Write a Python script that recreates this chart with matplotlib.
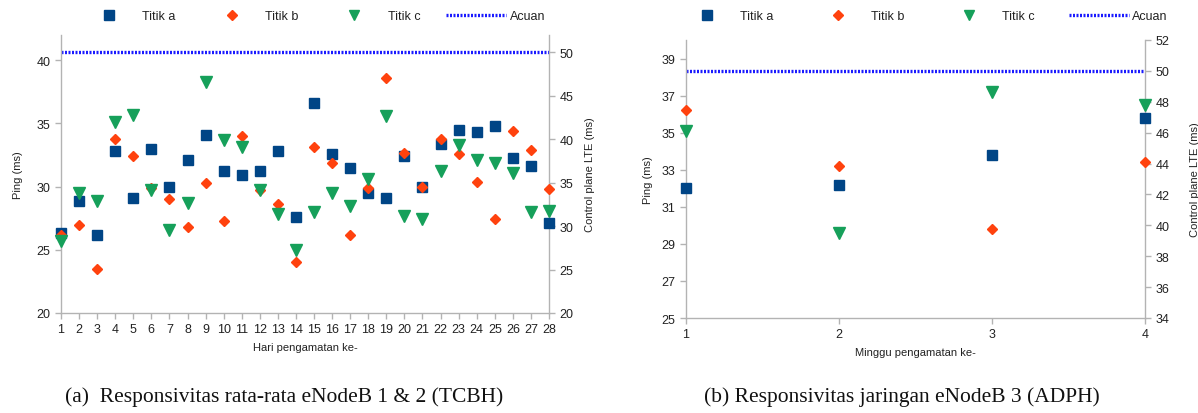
import matplotlib
matplotlib.use("Agg")
import matplotlib.pyplot as plt
from matplotlib.lines import Line2D

plt.rcParams["font.family"] = ["Liberation Sans", "DejaVu Sans"]

# ── data ─────────────────────────────────────────────────────────────────────
hari = list(range(1, 29))
hari_a = [26.3, 28.9, 26.2, 32.8, 29.1, 33.0, 30.0, 32.1, 34.1, 31.2, 30.9, 31.2, 32.8, 27.6,
          36.6, 32.6, 31.5, 29.5, 29.1, 32.4, 30.0, 33.4, 34.5, 34.3, 34.8, 32.3, 31.6, 27.1]
hari_b = [26.2, 27.0, 23.5, 33.8, 32.4, 29.9, 29.0, 26.8, 30.3, 27.3, 34.0, 29.7, 28.6, 24.0,
          33.1, 31.9, 26.2, 29.9, 38.6, 32.7, 30.0, 33.8, 32.6, 30.4, 27.4, 34.4, 32.9, 29.8]
hari_c = [25.7, 29.5, 28.9, 35.1, 35.7, 29.7, 26.6, 28.7, 38.3, 33.7, 33.1, 29.7, 27.8, 25.0,
          28.0, 29.5, 28.5, 30.6, 35.6, 27.7, 27.4, 31.2, 33.3, 32.1, 31.9, 31.1, 28.0, 28.1]

minggu = [1, 2, 3, 4]
minggu_a = [32.0, 32.2, 33.8, 35.8]
minggu_b = [36.2, 33.2, 29.8, 33.4]
minggu_c = [35.1, 29.6, 37.2, 36.5]

acuan = 50
labels = ["Titik a", "Titik b", "Titik c", "Acuan"]

# ── style ────────────────────────────────────────────────────────────────────
C_A = "#004586"
C_B = "#ff420e"
C_C = "#16a05a"
C_ACUAN = "#1a1aff"
SPINE = "#b3b3b3"
TXT = "#222222"


def style_axis(ax, sides):
    for name, sp in ax.spines.items():
        if name in sides:
            sp.set_color(SPINE)
            sp.set_linewidth(1.0)
        else:
            sp.set_visible(False)
    ax.tick_params(colors=SPINE, labelcolor=TXT, labelsize=9, length=4, width=1)


def panel(rect, x, a, b, c, xlim, ylim, yticks, ylim2, yticks2, xlabel, lpad, rpad):
    ax = fig.add_axes(rect)
    ax.set_facecolor("none")
    ax2 = ax.twinx()

    ax.plot(x, a, ls="none", marker="s", ms=7.5, color=C_A, clip_on=False, zorder=5)
    ax.plot(x, b, ls="none", marker="D", ms=5.5, color=C_B, clip_on=False, zorder=5)
    ax.plot(x, c, ls="none", marker="v", ms=8, color=C_C, clip_on=False, zorder=5)
    ax2.plot(xlim, [acuan, acuan], color=C_ACUAN, lw=2.4, ls=(0, (0.6, 0.45)))

    ax.set_xlim(*xlim)
    ax.set_ylim(*ylim)
    ax.set_yticks(yticks)
    ax.set_xticks(x)
    ax2.set_ylim(*ylim2)
    ax2.set_yticks(yticks2)
    ax.set_zorder(ax2.get_zorder() + 1)

    style_axis(ax, ["left", "bottom"])
    style_axis(ax2, ["right"])
    ax.set_ylabel("Ping (ms)", fontsize=8, color=TXT, labelpad=lpad)
    ax2.set_ylabel("Control plane LTE (ms)", fontsize=8, color=TXT, labelpad=rpad)
    ax.set_xlabel(xlabel, fontsize=8, color=TXT, labelpad=5)

    handles = [Line2D([], [], ls="none", marker="s", ms=6.5, color=C_A),
               Line2D([], [], ls="none", marker="D", ms=5, color=C_B),
               Line2D([], [], ls="none", marker="v", ms=7, color=C_C),
               Line2D([], [], color=C_ACUAN, lw=2.4, ls=(0, (0.6, 0.45)))]
    return handles


def add_legend(handles, cx, colsp):
    fig.legend(handles, labels, loc="center", bbox_to_anchor=(cx / W, 1 - 17 / H),
               ncol=4, frameon=False, fontsize=9, handlelength=4.8, handletextpad=0.25,
               columnspacing=colsp, labelcolor=TXT)


fig = plt.figure(figsize=(11.98, 4.14), dpi=100, facecolor="white")
W, H = 1198, 414

# ── (a) harian ───────────────────────────────────────────────────────────────
h = panel([61 / W, 1 - 314 / H, 488 / W, 278 / H],
          hari, hari_a, hari_b, hari_c,
          (1, 28), (20, 42), [20, 25, 30, 35, 40],
          (20, 52), [20, 25, 30, 35, 40, 45, 50],
          "Hari pengamatan ke-", 10, 8)
add_legend(h, 312, 2.1)

# ── (b) mingguan ─────────────────────────────────────────────────────────────
h = panel([686 / W, 1 - 319 / H, 459 / W, 278 / H],
          minggu, minggu_a, minggu_b, minggu_c,
          (1, 4), (25, 40), list(range(25, 40, 2)),
          (34, 52), list(range(34, 53, 2)),
          "Minggu pengamatan ke-", 6, 15)
add_legend(h, 922, 2.75)

# ── captions ─────────────────────────────────────────────────────────────────
fig.text(284 / W, 1 - 397 / H, "(a)  Responsivitas rata-rata eNodeB 1 & 2 (TCBH)",
         ha="center", va="center", fontsize=15.5, family="Liberation Serif", color="#111111")
fig.text(902 / W, 1 - 397 / H, "(b) Responsivitas jaringan eNodeB 3 (ADPH)",
         ha="center", va="center", fontsize=15.5, family="Liberation Serif", color="#111111")

fig.savefig("out.png", dpi=100, facecolor="white")
